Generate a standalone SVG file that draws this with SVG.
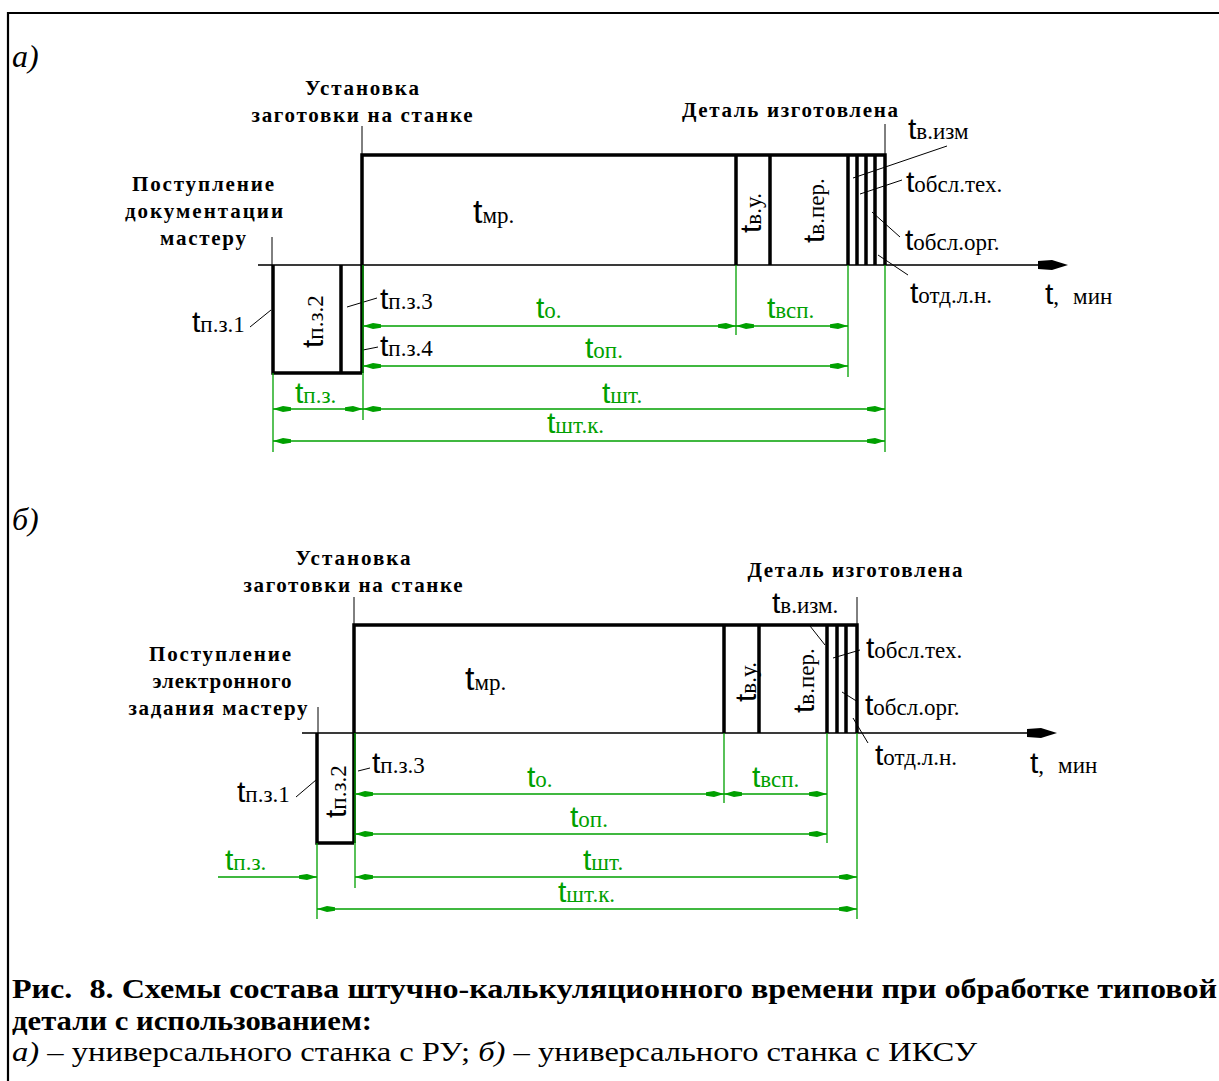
<svg xmlns="http://www.w3.org/2000/svg" width="1219" height="1081" viewBox="0 0 1219 1081">
<style>
.bl{font-family:"Liberation Serif",serif;font-weight:bold;font-size:21px;text-anchor:middle;fill:#000}
.lb{font-family:"Liberation Serif",serif;font-size:23px;fill:#000}
.lg{font-family:"Liberation Serif",serif;font-size:23px;fill:#00a000}
.tt{font-family:"Liberation Sans",sans-serif;font-size:30px}
.tm{font-family:"Liberation Sans",sans-serif;font-size:34px}
.thick{stroke:#000;stroke-width:3.5;fill:none}
.axis{stroke:#3a3a3a;stroke-width:2;fill:none}
.lead{stroke:#000;stroke-width:1;fill:none}
.ext{stroke:#00a000;stroke-width:1.3;fill:none}
.dim{stroke:#00a000;stroke-width:1.6;fill:none;marker-start:url(#ag);marker-end:url(#ag)}
.dimr{stroke:#00a000;stroke-width:1.6;fill:none;marker-end:url(#ag)}
.it{font-family:"Liberation Serif",serif;font-style:italic;font-size:32px;fill:#000}
.cap{font-family:"Liberation Serif",serif;font-size:28px;fill:#000}
</style>
<defs>
<marker id="ag" viewBox="0 0 18 8" refX="18" refY="4" markerWidth="18" markerHeight="8" markerUnits="userSpaceOnUse" orient="auto-start-reverse">
<path d="M0,2.2 L8,1 L18,4 L8,7 L0,5.8 Z" fill="#00a000"/>
</marker>
</defs>
<rect width="1219" height="1081" fill="#fff"/>
<g id="frame"><path d="M8,1081 L8,13 L1219,13" stroke="#000" stroke-width="2.2" fill="none"/></g>

<!-- ===== Diagram a ===== -->
<g id="diagram-a">
<text class="it" x="12" y="67">а)</text>
<g id="a-axis">
<line class="axis" x1="258" y1="265" x2="1045" y2="265"/>
<polygon points="1038,261 1052,260 1068,265 1052,270 1038,269" fill="#000"/>
<text x="1045" y="304"><tspan class="tt">t</tspan><tspan class="lb">,</tspan><tspan class="lb" dx="14">мин</tspan></text>
</g>
<g id="a-main-block">
<path class="thick" d="M362,373 L362,155 L885,155 L885,265"/>
<path class="thick" d="M736,155 V265 M770,155 V265 M848,155 V265 M857,155 V265 M866,155 V265 M875,155 V265"/>
<text class="lb" x="473" y="223"><tspan class="tm">t</tspan>мр.</text>
<text class="lb" transform="translate(761,233) rotate(-90)"><tspan class="tt">t</tspan>в.у.</text>
<text class="lb" transform="translate(824,243) rotate(-90)"><tspan class="tt">t</tspan>в.пер.</text>
</g>
<g id="a-pz-block">
<path class="thick" d="M273,265 L273,373 L362,373 M341,265 L341,373"/>
<text class="lb" transform="translate(323,348) rotate(-90)"><tspan class="tt">t</tspan>п.з.2</text>
</g>
<g id="a-events">
<text class="bl" x="362" y="95" textLength="114" lengthAdjust="spacing">Установка</text>
<text class="bl" x="362" y="122" textLength="221" lengthAdjust="spacing">заготовки на станке</text>
<line class="lead" x1="362" y1="126" x2="362" y2="155"/>
<text class="bl" x="203" y="191" textLength="142" lengthAdjust="spacing">Поступление</text>
<text class="bl" x="204" y="218" textLength="158" lengthAdjust="spacing">документации</text>
<text class="bl" x="203" y="245" textLength="86" lengthAdjust="spacing">мастеру</text>
<line class="lead" x1="272" y1="237" x2="272" y2="265"/>
<text class="bl" x="790" y="117" textLength="216" lengthAdjust="spacing">Деталь изготовлена</text>
<line class="lead" x1="885" y1="124" x2="885" y2="155"/>
</g>
<g id="a-labels">
<text class="lb" x="192" y="332"><tspan class="tt">t</tspan>п.з.1</text>
<line class="lead" x1="250" y1="327" x2="271" y2="310"/>
<text class="lb" x="380" y="309"><tspan class="tt">t</tspan>п.з.3</text>
<line class="lead" x1="377" y1="298" x2="347" y2="307"/>
<text class="lb" x="380" y="356"><tspan class="tt">t</tspan>п.з.4</text>
<line class="lead" x1="378" y1="347" x2="363" y2="350"/>
<text class="lb" x="908" y="139"><tspan class="tt">t</tspan>в.изм</text>
<line class="lead" x1="947" y1="146" x2="853" y2="178"/>
<text class="lb" x="906" y="192"><tspan class="tt">t</tspan>обсл.тех.</text>
<line class="lead" x1="902" y1="180" x2="860" y2="194"/>
<text class="lb" x="905" y="250"><tspan class="tt">t</tspan>обсл.орг.</text>
<line class="lead" x1="900" y1="237" x2="872" y2="212"/>
<text class="lb" x="910" y="303"><tspan class="tt">t</tspan>отд.л.н.</text>
<line class="lead" x1="908" y1="275" x2="878" y2="255"/>
</g>
<g id="a-connectors">
<path class="ext" d="M363,265 V420 M273,373 V452 M736,265 V335 M848,265 V377 M885,265 V452"/>
<line class="dim" x1="363" y1="326" x2="736" y2="326"/>
<line class="dim" x1="736" y1="326" x2="848" y2="326"/>
<line class="dim" x1="363" y1="366" x2="848" y2="366"/>
<line class="dim" x1="273" y1="409" x2="363" y2="409"/>
<line class="dim" x1="363" y1="409" x2="885" y2="409"/>
<line class="dim" x1="273" y1="441" x2="885" y2="441"/>
<text class="lg" x="536" y="318"><tspan class="tt">t</tspan>о.</text>
<text class="lg" x="767" y="318"><tspan class="tt">t</tspan>всп.</text>
<text class="lg" x="585" y="358"><tspan class="tt">t</tspan>оп.</text>
<text class="lg" x="295" y="403"><tspan class="tt">t</tspan>п.з.</text>
<text class="lg" x="602" y="403"><tspan class="tt">t</tspan>шт.</text>
<text class="lg" x="547" y="433"><tspan class="tt">t</tspan>шт.к.</text>
</g>
</g>

<!-- ===== Diagram b ===== -->
<g id="diagram-b">
<text class="it" x="12" y="530">б)</text>
<g id="b-axis">
<line class="axis" x1="302" y1="733" x2="1035" y2="733"/>
<polygon points="1027,729 1041,728 1057,733 1041,738 1027,737" fill="#000"/>
<text x="1030" y="773"><tspan class="tt">t</tspan><tspan class="lb">,</tspan><tspan class="lb" dx="14">мин</tspan></text>
</g>
<g id="b-main-block">
<path class="thick" d="M354,843 L354,625 L857,625 L857,733"/>
<path class="thick" d="M724,625 V733 M759,625 V733 M827,625 V733 M837,625 V733 M846,625 V733"/>
<text class="lb" x="465" y="690"><tspan class="tm">t</tspan>мр.</text>
<text class="lb" transform="translate(756,702) rotate(-90)"><tspan class="tt">t</tspan>в.у.</text>
<text class="lb" transform="translate(814,713) rotate(-90)"><tspan class="tt">t</tspan>в.пер.</text>
</g>
<g id="b-pz-block">
<path class="thick" d="M317,733 L317,843 L354,843"/>
<text class="lb" transform="translate(346,818) rotate(-90)"><tspan class="tt">t</tspan>п.з.2</text>
</g>
<g id="b-events">
<text class="bl" x="353" y="565" textLength="115" lengthAdjust="spacing">Установка</text>
<text class="bl" x="353" y="592" textLength="219" lengthAdjust="spacing">заготовки на станке</text>
<line class="lead" x1="354" y1="597" x2="354" y2="625"/>
<text class="bl" x="220" y="661" textLength="142" lengthAdjust="spacing">Поступление</text>
<text class="bl" x="222" y="688" textLength="139" lengthAdjust="spacing">электронного</text>
<text class="bl" x="218" y="715" textLength="179" lengthAdjust="spacing">задания мастеру</text>
<line class="lead" x1="318" y1="707" x2="318" y2="733"/>
<text class="bl" x="855" y="577" textLength="215" lengthAdjust="spacing">Деталь изготовлена</text>
<line class="lead" x1="857" y1="597" x2="857" y2="625"/>
</g>
<g id="b-labels">
<text class="lb" x="237" y="802"><tspan class="tt">t</tspan>п.з.1</text>
<line class="lead" x1="296" y1="797" x2="316" y2="780"/>
<text class="lb" x="372" y="773"><tspan class="tt">t</tspan>п.з.3</text>
<line class="lead" x1="370" y1="768" x2="358" y2="771"/>
<text class="lb" x="772" y="613"><tspan class="tt">t</tspan>в.изм.</text>
<line class="lead" x1="810" y1="626" x2="825" y2="645"/>
<text class="lb" x="866" y="658"><tspan class="tt">t</tspan>обсл.тех.</text>
<line class="lead" x1="860" y1="650" x2="833" y2="658"/>
<text class="lb" x="865" y="715"><tspan class="tt">t</tspan>обсл.орг.</text>
<line class="lead" x1="858" y1="702" x2="842" y2="692"/>
<text class="lb" x="875" y="765"><tspan class="tt">t</tspan>отд.л.н.</text>
<line class="lead" x1="868" y1="743" x2="853" y2="718"/>
</g>
<g id="b-connectors">
<path class="ext" d="M355,733 V888 M317,843 V919 M724,733 V803 M827,733 V843 M857,733 V919"/>
<line class="dim" x1="355" y1="794" x2="724" y2="794"/>
<line class="dim" x1="724" y1="794" x2="827" y2="794"/>
<line class="dim" x1="355" y1="834" x2="827" y2="834"/>
<line class="dimr" x1="218" y1="877" x2="317" y2="877"/>
<line class="dim" x1="355" y1="877" x2="857" y2="877"/>
<line class="dim" x1="317" y1="909" x2="857" y2="909"/>
<text class="lg" x="527" y="787"><tspan class="tt">t</tspan>о.</text>
<text class="lg" x="752" y="787"><tspan class="tt">t</tspan>всп.</text>
<text class="lg" x="570" y="827"><tspan class="tt">t</tspan>оп.</text>
<text class="lg" x="225" y="870"><tspan class="tt">t</tspan>п.з.</text>
<text class="lg" x="583" y="870"><tspan class="tt">t</tspan>шт.</text>
<text class="lg" x="558" y="902"><tspan class="tt">t</tspan>шт.к.</text>
</g>
</g>

<g id="caption">
<text class="cap" x="12" y="998" font-weight="bold" textLength="1205" lengthAdjust="spacingAndGlyphs">Рис. <tspan dx="8">8.</tspan> Схемы состава штучно-калькуляционного времени при обработке типовой</text>
<text class="cap" x="12" y="1030" font-weight="bold" textLength="360" lengthAdjust="spacingAndGlyphs">детали с использованием:</text>
<text class="cap" x="12" y="1061" textLength="965" lengthAdjust="spacingAndGlyphs"><tspan font-style="italic">а)</tspan> – универсального станка с РУ; <tspan font-style="italic">б)</tspan> – универсального станка с ИКСУ</text>
</g>
</svg>
